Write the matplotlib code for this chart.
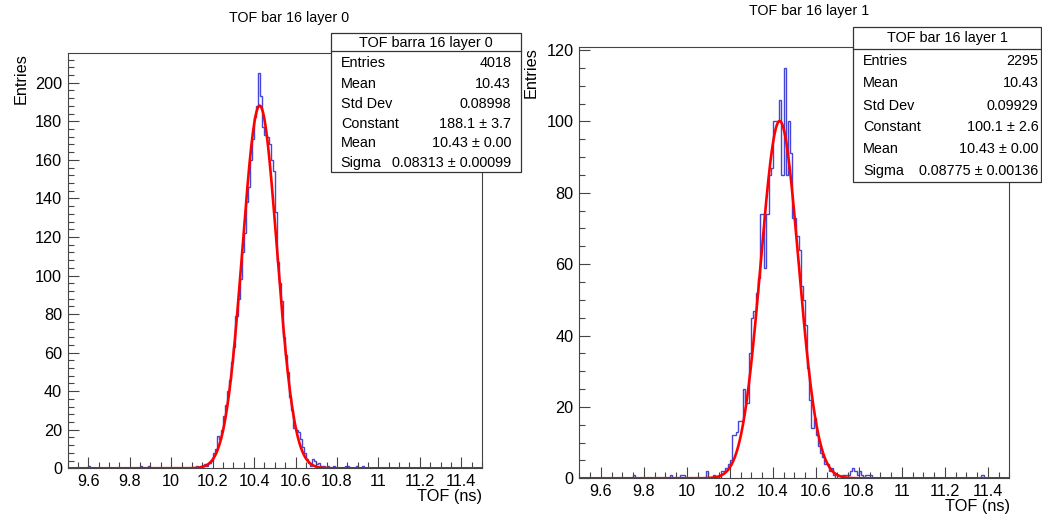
import numpy as np
import matplotlib
matplotlib.use("Agg")
import matplotlib.pyplot as plt
from matplotlib.patches import Rectangle
from matplotlib.lines import Line2D
from matplotlib.ticker import MultipleLocator, FormatStrFormatter

plt.rcParams['font.family'] = ['Liberation Sans', 'DejaVu Sans']

# binning: 200 bins of 0.01 ns from 9.5 to 11.5
edges = np.linspace(9.5, 11.5, 201)

# layer 0 counts, one row per 0.1 ns (9.50 ... 11.49)
counts_l0 = [
    0, 0, 0, 0, 0, 0, 0, 0, 0, 0,
    1, 0, 0, 0, 0, 0, 0, 0, 0, 0,
    0, 0, 0, 0, 0, 0, 0, 0, 0, 0,
    0, 0, 0, 0, 0, 1, 0, 0, 0, 1,
    0, 0, 0, 0, 0, 0, 0, 0, 0, 0,
    0, 0, 0, 0, 0, 0, 0, 0, 0, 0,        # 10.0
    0, 0, 1, 0, 1, 1, 2, 1, 3, 4,
    8, 10, 17, 15, 20, 27, 33, 40, 46, 55,
    63, 79, 88, 98, 112, 122, 138, 146, 160, 171,
    182, 188, 205, 193, 177, 173, 172, 168, 160, 154,
    133, 107, 96, 87, 68, 59, 50, 37, 30, 21,
    20, 19, 15, 11, 8, 5, 3, 1, 5, 4,
    2, 3, 1, 1, 0, 1, 0, 0, 1, 0,
    0, 0, 0, 0, 1, 1, 0, 0, 0, 1,
    0, 0, 1, 0, 0, 0, 0, 0, 0, 0,
    0, 0, 0, 0, 0, 0, 0, 0, 0, 0,        # 11.0
    0, 0, 0, 0, 0, 0, 0, 0, 0, 0,
    0, 0, 0, 0, 0, 0, 0, 0, 0, 0,
    0, 0, 0, 0, 0, 0, 0, 0, 0, 0,
    0, 0, 0, 0, 0, 0, 0, 0, 0, 0,
]

# layer 1 counts
counts_l1 = [
    0, 0, 0, 0, 0, 0, 0, 0, 0, 0,
    0, 0, 0, 0, 0, 0, 0, 0, 0, 0,
    0, 0, 0, 0, 0, 1, 0, 0, 0, 0,
    0, 0, 0, 0, 0, 0, 0, 0, 0, 0,
    0, 0, 1, 0, 0, 0, 0, 1, 1, 0,
    0, 0, 0, 0, 0, 0, 0, 0, 0, 2,        # 10.0
    0, 0, 1, 0, 0, 0, 2, 2, 3, 4,
    5, 12, 12, 13, 16, 16, 25, 21, 21, 35,
    45, 47, 52, 56, 74, 74, 59, 74, 85, 87,
    100, 100, 100, 106, 85, 115, 85, 100, 91, 73,
    73, 68, 64, 54, 50, 43, 31, 22, 14, 17,
    12, 9, 7, 6, 4, 4, 2, 3, 1, 0,
    0, 0, 1, 1, 1, 1, 2, 3, 2, 1,
    2, 1, 0, 1, 1, 1, 0, 0, 0, 0,
    0, 0, 0, 0, 0, 0, 0, 0, 0, 0,
    0, 0, 0, 0, 0, 0, 0, 0, 0, 0,        # 11.0
    0, 0, 0, 0, 0, 0, 0, 0, 0, 0,
    0, 0, 0, 0, 0, 0, 0, 0, 0, 0,
    0, 0, 0, 0, 0, 0, 0, 1, 0, 0,
    0, 0, 0, 0, 0, 0, 0, 0, 0, 0,
]

# gaussian fit parameters (constant, mean, sigma)
fit_l0 = [188.1, 10.427, 0.08313]
fit_l1 = [100.1, 10.432, 0.08775]

titles = ["TOF bar 16 layer 0", "TOF bar 16 layer 1"]
stat_headers = ["TOF barra 16 layer 0", "TOF bar 16 layer 1"]
stat_labels = ["Entries", "Mean", "Std Dev", "Constant", "Mean", "Sigma"]
stat_values_l0 = ["4018", "10.43", "0.08998", "188.1 ± 3.7", "10.43 ± 0.00", "0.08313 ± 0.00099"]
stat_values_l1 = ["2295", "10.43", "0.09929", "100.1 ± 2.6", "10.43 ± 0.00", "0.08775 ± 0.00136"]

W, H = 1042, 516
fig = plt.figure(figsize=(W / 100, H / 100), dpi=100)
fig.patch.set_facecolor('white')


def fx(x):
    return x / W


def fy(y):
    return 1 - y / H


def draw_panel(rect, counts, fit, ystep, yminor):
    x0, y0, x1, y1 = rect
    ax = fig.add_axes([fx(x0), fy(y1), fx(x1 - x0), (y1 - y0) / H])
    counts = np.array(counts)
    ax.stairs(counts, edges, color='#4646d6', lw=1.0)
    xf = np.linspace(9.5, 11.5, 800)
    a, mu, sig = fit
    ax.plot(xf, a * np.exp(-0.5 * ((xf - mu) / sig) ** 2), color='red', lw=1.9)
    ax.set_xlim(9.5, 11.5)
    ax.set_ylim(0, 1.05 * counts.max())
    ax.xaxis.set_major_locator(MultipleLocator(0.2))
    ax.xaxis.set_minor_locator(MultipleLocator(0.05))
    ax.xaxis.set_major_formatter(FormatStrFormatter('%g'))
    ax.yaxis.set_major_locator(MultipleLocator(ystep))
    ax.yaxis.set_minor_locator(MultipleLocator(yminor))
    ax.tick_params(which='both', direction='in', top=False, right=False,
                   color='#444444', width=0.8)
    ax.tick_params(which='major', length=8, pad=4, labelsize=11.7)
    ax.tick_params(which='minor', length=4)
    for s in ax.spines.values():
        s.set_color('#444444')
        s.set_linewidth(0.8)
    return ax


def draw_stats(x0, y0, x1, y1, ydiv, header, hy, values, ys, lx, vx):
    fig.add_artist(Rectangle((fx(x0), fy(y1)), fx(x1 - x0), (y1 - y0) / H,
                             transform=fig.transFigure, facecolor='white',
                             edgecolor='#333333', lw=0.9, zorder=5))
    fig.add_artist(Line2D([fx(x0), fx(x1)], [fy(ydiv), fy(ydiv)],
                          transform=fig.transFigure, color='#333333', lw=0.9, zorder=6))
    fig.text(fx((x0 + x1) / 2), fy(hy), header, ha='center', va='center', size=10.4, zorder=7)
    for lab, val, y in zip(stat_labels, values, ys):
        fig.text(fx(lx), fy(y), lab, ha='left', va='center', size=10.4, zorder=7)
        fig.text(fx(vx), fy(y), val, ha='right', va='center', size=10.4, zorder=7)


draw_panel((67.6, 53.3, 482, 468.3), counts_l0, fit_l0, 20, 4)
draw_panel((579.3, 47.3, 1009.3, 478.3), counts_l1, fit_l1, 20, 5)

fig.text(fx(289), fy(18.3), titles[0], ha='center', va='center', size=10.3)
fig.text(fx(808.7), fy(10.7), titles[1], ha='center', va='center', size=10.3)

fig.text(fx(21), fy(53.3), "Entries", rotation=90, ha='center', va='top', size=11.7)
fig.text(fx(531.5), fy(47.3), "Entries", rotation=90, ha='center', va='top', size=11.7)
fig.text(fx(482), fy(496.7), "TOF (ns)", ha='right', va='center', size=11.7)
fig.text(fx(1010), fy(506.7), "TOF (ns)", ha='right', va='center', size=11.7)

draw_stats(331, 33.3, 520.6, 172.3, 50.7, stat_headers[0], 42.5, stat_values_l0,
           [63.3, 84.3, 104.3, 124, 143.3, 162.7], 340.8, 511.2)
draw_stats(853.3, 26.7, 1041, 181.7, 49.3, stat_headers[1], 38.3, stat_values_l1,
           [61, 83.3, 106, 126.7, 149.3, 170.7], 863.3, 1038.5)

fig.savefig("out.png", dpi=100, facecolor='white')
